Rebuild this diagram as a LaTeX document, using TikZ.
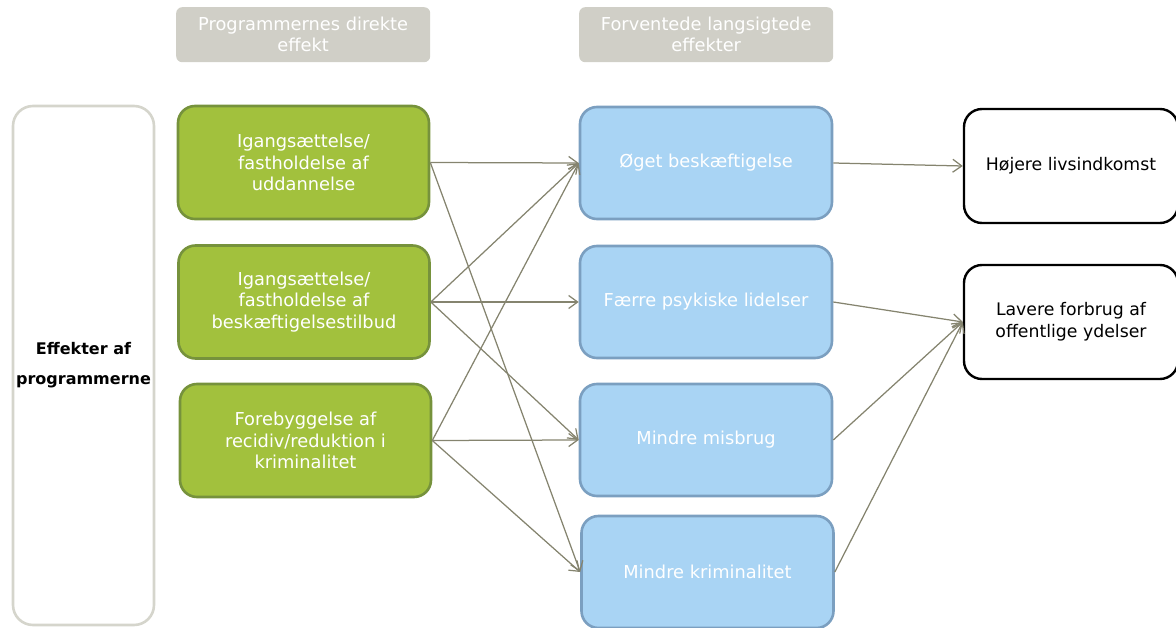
\documentclass[tikz,border=0pt]{standalone}
\usepackage{fontspec}
\setmainfont{DejaVu Sans}
\usetikzlibrary{arrows.meta}
\definecolor{hdrgray}{HTML}{D0CFC7}
\definecolor{grfill}{HTML}{A2C13D}
\definecolor{grline}{HTML}{76923C}
\definecolor{blfill}{HTML}{A9D4F4}
\definecolor{blline}{HTML}{7B9FC0}
\definecolor{arr}{HTML}{85846F}
\definecolor{lbox}{HTML}{D5D5CC}
\tikzset{
  hdr/.style={draw=none, fill=hdrgray, rounded corners=6pt, minimum width=254pt, minimum height=55pt, text=white, align=center, font=\fontsize{17.8}{21}\selectfont, inner sep=0pt, anchor=north west},
  grbox/.style={draw=grline, fill=grfill, line width=2.6pt, rounded corners=17pt, minimum width=251pt, minimum height=113pt, text=white, align=center, font=\fontsize{17.8}{21.5}\selectfont, inner sep=0pt},
  blbox/.style={draw=blline, fill=blfill, line width=2.6pt, rounded corners=17pt, minimum width=252pt, minimum height=112pt, text=white, align=center, font=\fontsize{17.8}{21.5}\selectfont, inner sep=0pt},
  kbox/.style={draw=black, fill=white, line width=2.4pt, rounded corners=18pt, minimum width=214pt, minimum height=114pt, text=black, align=center, font=\fontsize{17.3}{22}\selectfont, inner sep=0pt},
  conn/.style={draw=arr, line width=1.25pt, -{Straight Barb[length=9pt,width=13pt,line width=1.25pt]}},
}
\begin{document}
\begin{tikzpicture}[x=1pt,y=-1pt]
\useasboundingbox (0,0) rectangle (1176,628);
\node[hdr] (h1) at (176,7) {Programmernes direkte\\effekt};
\node[hdr] (h2) at (579,7) {Forventede langsigtede\\effekter};
\node[draw=lbox, line width=2.6pt, rounded corners=20pt, minimum width=141pt, minimum height=519pt, inner sep=0pt, align=center, font=\fontsize{16}{30}\selectfont\bfseries] (L) at (83.5,365.5) {Effekter af\\programmerne};
\node[grbox] (g1) at (303.5,162.5) {Igangsættelse/\\fastholdelse af\\uddannelse};
\node[grbox] (g2) at (304,302) {Igangsættelse/\\fastholdelse af\\beskæftigelsestilbud};
\node[grbox] (g3) at (305.5,440.5) {Forebyggelse af\\recidiv/reduktion i\\kriminalitet};
\node[blbox] (b1) at (706,163) {Øget beskæftigelse};
\node[blbox] (b2) at (706,302) {Færre psykiske lidelser};
\node[blbox] (b3) at (706,440) {Mindre misbrug};
\node[blbox] (b4) at (707.5,572) {Mindre kriminalitet};
\node[kbox] (k1) at (1071,166) {Højere livsindkomst};
\node[kbox] (k2) at (1071,322) {Lavere forbrug af\\offentlige ydelser};
\draw[conn] (g1.east) -- (b1.west);
\draw[conn] (g1.east) -- (b4.west);
\draw[conn] (g2.east) -- (b1.west);
\draw[conn] (g2.east) -- (b2.west);
\draw[conn] (g2.east) -- (b3.west);
\draw[conn] (g3.east) -- (b1.west);
\draw[conn] (g3.east) -- (b3.west);
\draw[conn] (g3.east) -- (b4.west);
\draw[conn] (b1.east) -- (k1.west);
\draw[conn] (b2.east) -- (k2.west);
\draw[conn] (b3.east) -- (k2.west);
\draw[conn] (b4.east) -- (k2.west);
\end{tikzpicture}
\end{document}
